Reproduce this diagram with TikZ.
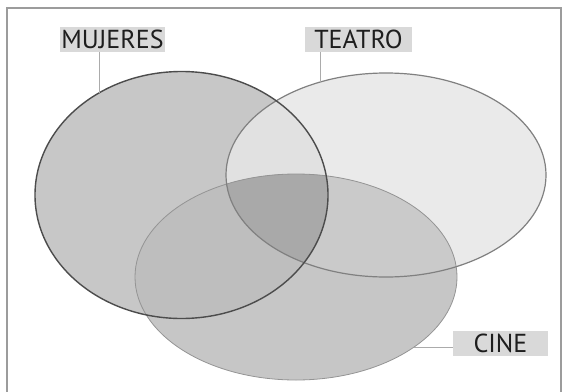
\documentclass[tikz,border=0pt]{standalone}
\usepackage{fontspec}
\setmainfont{PT Sans}
\definecolor{cM}{HTML}{C7C7C7}
\definecolor{cT}{HTML}{EAEAEA}
\definecolor{cMT}{HTML}{E1E1E1}
\definecolor{cC}{HTML}{C6C6C6}
\definecolor{cMC}{HTML}{BEBEBE}
\definecolor{cTC}{HTML}{CACACA}
\definecolor{cMTC}{HTML}{A9A9A9}
\definecolor{boxc}{HTML}{D9D9D9}
\definecolor{framec}{HTML}{9C9C9C}
\definecolor{leadc}{HTML}{ABABAB}
\definecolor{txtc}{HTML}{1E1E1E}
\tikzset{
  lbl/.style={fill=boxc, inner sep=0pt, minimum height=25pt, text height=18pt, text depth=0pt,
    text=txtc, font=\fontsize{26}{26}\selectfont},
  leader/.style={draw=leadc, line width=0.9pt},
  lineM/.style={draw=black!70, line width=1.4pt},
  lineT/.style={draw=black!50, line width=1.2pt},
  lineC/.style={draw=black!42, line width=0.8pt}
}
\def\pM{(181.5,195) ellipse [x radius=146.5pt, y radius=123.5pt]}
\def\pT{(386,175) ellipse [x radius=160pt, y radius=102pt]}
\def\pC{(296,277) ellipse [x radius=161pt, y radius=103pt]}
\begin{document}
\begin{tikzpicture}[x=1pt,y=-1pt]
\useasboundingbox (0,0) rectangle (564,391);
\fill[white] (0,0) rectangle (564,391);
\draw[framec, line width=1.6pt] (7,395) -- (7,8) -- (561,8) -- (561,395);
% fills
\fill[cM] \pM;
\fill[cT] \pT;
\begin{scope}\clip \pM; \fill[cMT] \pT; \end{scope}
\fill[cC] \pC;
\begin{scope}\clip \pC; \fill[cMC] \pM; \end{scope}
\begin{scope}\clip \pC; \fill[cTC] \pT; \end{scope}
\begin{scope}\clip \pC; \clip \pM; \fill[cMTC] \pT; \end{scope}
% outlines
\draw[lineC] \pC;
\draw[lineT] \pT;
\draw[lineM] \pM;
% points on the ellipses
\coordinate (mj) at (99.5,92.6);
\coordinate (tt) at (320,82);
\coordinate (cc) at (414,347);
% labels
\node[lbl, minimum width=105pt] (lm) at (112.5,39.5) {MUJERES};
\node[lbl, minimum width=107pt] (lt) at (358.5,39) {TEATRO};
\node[lbl, minimum width=95pt] (lc) at (500.5,343) {CINE};
% leaders
\draw[leader] (lm.south -| mj) -- (mj);
\draw[leader] (lt.south -| tt) -- (tt);
\draw[leader] (lc.west |- cc) -- (cc);
\end{tikzpicture}
\end{document}
